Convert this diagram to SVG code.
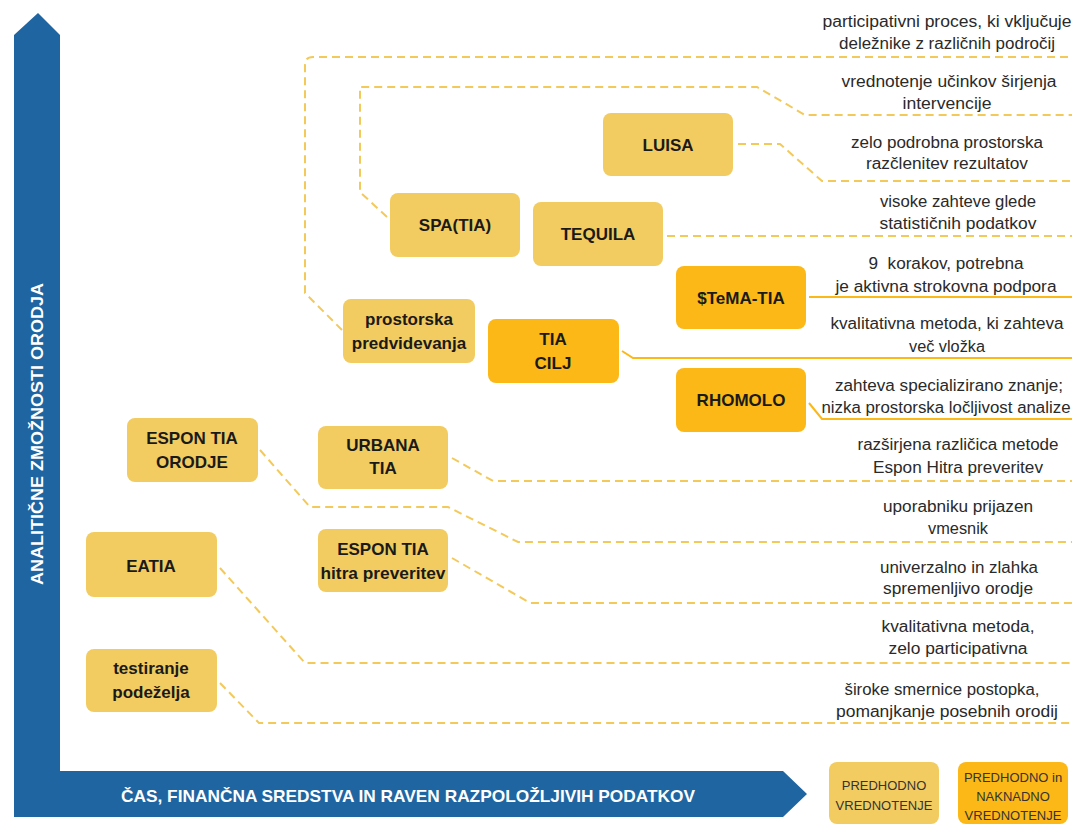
<svg xmlns="http://www.w3.org/2000/svg" width="1074" height="825" viewBox="0 0 1074 825">
<style>
.n1{fill:#f2cc60}
.n2{fill:#fbb817}
.lbl{font-family:"Liberation Sans",Arial,sans-serif;font-weight:bold;font-size:17px;fill:#1a1a1a;text-anchor:middle}
.d{font-family:"Liberation Sans",Arial,sans-serif;font-size:16px;fill:#2a2a2a;text-anchor:middle}
.dash{fill:none;stroke:#f3c95a;stroke-width:2;stroke-dasharray:8 5}
.sol{fill:none;stroke:#fbb817;stroke-width:2}
.ax{font-family:"Liberation Sans",Arial,sans-serif;font-weight:bold;font-size:17px;fill:#fff;text-anchor:middle}
.lg{font-family:"Liberation Sans",Arial,sans-serif;font-size:13px;fill:#333;text-anchor:middle}
</style>
<rect width="1074" height="825" fill="#fff"/>
<g id="axes">
<polygon points="14,35 38,13 60,35 60,771 783,771 807,794 783,817 14,817" fill="#1e65a2"/>
<text class="ax" transform="translate(43,434) rotate(-90)" textLength="302" lengthAdjust="spacingAndGlyphs">ANALITIČNE ZMOŽNOSTI ORODJA</text>
<text class="ax" x="408" y="802" textLength="574" lengthAdjust="spacingAndGlyphs">ČAS, FINANČNA SREDSTVA IN RAVEN RAZPOLOŽLJIVIH PODATKOV</text>
</g>
<g id="connectors">
<path class="dash" d="M342,330 L305,293 L305,65 Q305,57 313,57 L1072,57"/>
<path class="dash" d="M387,217 L360,192 L360,87 L757,87 L805,115 L1072,115"/>
<path class="dash" d="M738,144 L780,144 L822,181 L1072,181"/>
<path class="dash" d="M667,236 L1072,236"/>
<path class="sol" d="M809,297 L1072,297"/>
<path class="sol" d="M622,351 L633,358 L1072,358"/>
<path class="sol" d="M809,403 L822,419 L1072,419"/>
<path class="dash" d="M452,458 L493,481 L1072,481"/>
<path class="dash" d="M260,450 L310,507 L448,507 L518,542 L1072,542"/>
<path class="dash" d="M452,558 L530,603 L1072,603"/>
<path class="dash" d="M220,568 L305,663 L1072,663"/>
<path class="dash" d="M220,683 L259,723 L1072,723"/>
</g>
<g id="descriptions">
<text class="d" x="947" y="27" textLength="249" lengthAdjust="spacingAndGlyphs">participativni proces, ki vključuje</text>
<text class="d" x="947" y="49" textLength="216" lengthAdjust="spacingAndGlyphs">deležnike z različnih področij</text>
<text class="d" x="949" y="87" textLength="215" lengthAdjust="spacingAndGlyphs">vrednotenje učinkov širjenja</text>
<text class="d" x="947" y="109" textLength="89" lengthAdjust="spacingAndGlyphs">intervencije</text>
<text class="d" x="947" y="148" textLength="192" lengthAdjust="spacingAndGlyphs">zelo podrobna prostorska</text>
<text class="d" x="947" y="169" textLength="162" lengthAdjust="spacingAndGlyphs">razčlenitev rezultatov</text>
<text class="d" x="958" y="207" textLength="156" lengthAdjust="spacingAndGlyphs">visoke zahteve glede</text>
<text class="d" x="958" y="229" textLength="157" lengthAdjust="spacingAndGlyphs">statističnih podatkov</text>
<text class="d" x="946" y="269" textLength="155" lengthAdjust="spacingAndGlyphs" xml:space="preserve">9  korakov, potrebna</text>
<text class="d" x="946" y="292" textLength="221" lengthAdjust="spacingAndGlyphs">je aktivna strokovna podpora</text>
<text class="d" x="947" y="329" textLength="233" lengthAdjust="spacingAndGlyphs">kvalitativna metoda, ki zahteva</text>
<text class="d" x="947" y="352" textLength="76" lengthAdjust="spacingAndGlyphs">več vložka</text>
<text class="d" x="949" y="391" textLength="228" lengthAdjust="spacingAndGlyphs">zahteva specializirano znanje;</text>
<text class="d" x="946" y="413" textLength="249" lengthAdjust="spacingAndGlyphs">nizka prostorska ločljivost analize</text>
<text class="d" x="958" y="450" textLength="201" lengthAdjust="spacingAndGlyphs">razširjena različica metode</text>
<text class="d" x="958" y="473" textLength="170" lengthAdjust="spacingAndGlyphs">Espon Hitra preveritev</text>
<text class="d" x="958" y="512" textLength="150" lengthAdjust="spacingAndGlyphs">uporabniku prijazen</text>
<text class="d" x="958" y="534" textLength="60" lengthAdjust="spacingAndGlyphs">vmesnik</text>
<text class="d" x="959" y="573" textLength="158" lengthAdjust="spacingAndGlyphs">univerzalno in zlahka</text>
<text class="d" x="958" y="594" textLength="150" lengthAdjust="spacingAndGlyphs">spremenljivo orodje</text>
<text class="d" x="958" y="632" textLength="153" lengthAdjust="spacingAndGlyphs">kvalitativna metoda,</text>
<text class="d" x="958" y="654" textLength="139" lengthAdjust="spacingAndGlyphs">zelo participativna</text>
<text class="d" x="942" y="695" textLength="195" lengthAdjust="spacingAndGlyphs">široke smernice postopka,</text>
<text class="d" x="947" y="717" textLength="222" lengthAdjust="spacingAndGlyphs">pomanjkanje posebnih orodij</text>
</g>
<g id="n-luisa"><rect class="n1" x="603" y="113" width="130" height="63" rx="8"/><text class="lbl" x="668" y="151">LUISA</text></g>
<g id="n-spatia"><rect class="n1" x="390" y="193" width="130" height="64" rx="8"/><text class="lbl" x="455" y="231">SPA(TIA)</text></g>
<g id="n-tequila"><rect class="n1" x="533" y="202" width="130" height="64" rx="8"/><text class="lbl" x="598" y="240">TEQUILA</text></g>
<g id="n-stema"><rect class="n2" x="676" y="266" width="130" height="63" rx="8"/><text class="lbl" x="741" y="304">$TeMA-TIA</text></g>
<g id="n-prostorska"><rect class="n1" x="343" y="299" width="132" height="64" rx="8"/><text class="lbl" x="409" y="325">prostorska</text><text class="lbl" x="409" y="349">predvidevanja</text></g>
<g id="n-tiacilj"><rect class="n2" x="488" y="319" width="131" height="64" rx="8"/><text class="lbl" x="553" y="345">TIA</text><text class="lbl" x="553" y="369">CILJ</text></g>
<g id="n-rhomolo"><rect class="n2" x="676" y="368" width="130" height="64" rx="8"/><text class="lbl" x="741" y="406">RHOMOLO</text></g>
<g id="n-urbana"><rect class="n1" x="318" y="426" width="130" height="63" rx="8"/><text class="lbl" x="383" y="451">URBANA</text><text class="lbl" x="383" y="474">TIA</text></g>
<g id="n-espon-orodje"><rect class="n1" x="127" y="418" width="131" height="64" rx="8"/><text class="lbl" x="192" y="444">ESPON TIA</text><text class="lbl" x="192" y="468">ORODJE</text></g>
<g id="n-eatia"><rect class="n1" x="86" y="532" width="131" height="65" rx="8"/><text class="lbl" x="151" y="572">EATIA</text></g>
<g id="n-espon-hitra"><rect class="n1" x="318" y="529" width="130" height="63" rx="8"/><text class="lbl" x="383" y="555">ESPON TIA</text><text class="lbl" x="383" y="579" textLength="125" lengthAdjust="spacingAndGlyphs">hitra preveritev</text></g>
<g id="n-testiranje"><rect class="n1" x="86" y="649" width="131" height="63" rx="8"/><text class="lbl" x="151" y="674">testiranje</text><text class="lbl" x="151" y="698">podeželja</text></g>
<g id="legend-pred"><rect class="n1" x="829" y="762" width="110" height="62" rx="8"/><text class="lg" x="884" y="790">PREDHODNO</text><text class="lg" x="884" y="810">VREDNOTENJE</text></g>
<g id="legend-pred-nak"><rect class="n2" x="958" y="762" width="110" height="62" rx="8"/><text class="lg" x="1013" y="782">PREDHODNO in</text><text class="lg" x="1013" y="801">NAKNADNO</text><text class="lg" x="1013" y="820">VREDNOTENJE</text></g>
</svg>
